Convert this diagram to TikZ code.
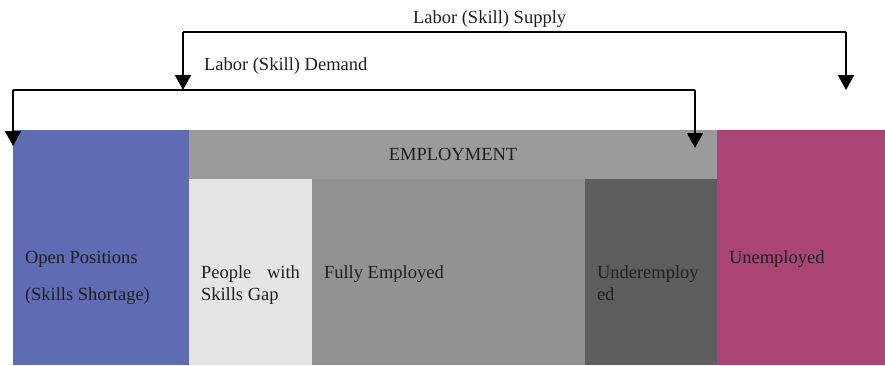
\documentclass[tikz,border=0pt]{standalone}
\usepackage{fontspec}
\setmainfont{Liberation Serif}
\usetikzlibrary{arrows.meta}
\definecolor{openblue}{HTML}{5F6BB3}
\definecolor{emphead}{HTML}{9B9B9B}
\definecolor{gapgray}{HTML}{E5E5E5}
\definecolor{fullgray}{HTML}{929292}
\definecolor{undergray}{HTML}{5E5E5E}
\definecolor{unemp}{HTML}{AA4474}
\definecolor{txt}{HTML}{1E1E1E}
\tikzset{
  block/.style={draw=none, inner sep=0pt, outer sep=0pt, anchor=north west},
  lbl/.style={inner sep=0pt, outer sep=0pt, anchor=base west, text=txt,
              font=\fontsize{18.5}{22}\selectfont},
  conn/.style={line width=1.6pt, -{Triangle[length=15pt,width=16pt]}},
}
\begin{document}
\begin{tikzpicture}[x=1pt,y=-1pt]
\useasboundingbox (0,0) rectangle (885,365);
% blocks
\node[block, fill=openblue, minimum width=176pt, minimum height=235pt] (open) at (13,130) {};
\node[block, fill=emphead, minimum width=528pt, minimum height=49pt] (emp) at (189,130) {};
\node[block, fill=gapgray, minimum width=123pt, minimum height=186pt] (gap) at (189,179) {};
\node[block, fill=fullgray, minimum width=273pt, minimum height=186pt] (full) at (312,179) {};
\node[block, fill=undergray, minimum width=132pt, minimum height=186pt] (under) at (585,179) {};
\node[block, fill=unemp, minimum width=168pt, minimum height=235pt] (unem) at (717,130) {};
% texts
\node[lbl, anchor=base] (emptxt) at (453,160) {EMPLOYMENT};
\node[lbl] (open1) at (25,263) {Open Positions};
\node[lbl] (open2) at (25,300) {(Skills Shortage)};
\node[lbl] (gap1) at (201,278) {\makebox[99pt][s]{People with}};
\node[lbl] (gap2) at (201,300) {Skills Gap};
\node[lbl] (full1) at (324,278) {Fully Employed};
\node[lbl] (under1) at (597,278) {Underemploy};
\node[lbl] (under2) at (597,300) {ed};
\node[lbl] (unemtxt) at (729,263) {Unemployed};
\node[lbl] (supply) at (413,23) {Labor (Skill) Supply};
\node[lbl] (demand) at (204,70) {Labor (Skill) Demand};
% connector points
\coordinate (sL) at (183,32);
\coordinate (sR) at (846,32);
\coordinate (sLend) at (183,90);
\coordinate (sRend) at (846,90);
\coordinate (dL) at (13,90);
\coordinate (dR) at (695,90);
\coordinate (dLend) at (13,146);
\coordinate (dRend) at (695,148);
% connectors
\draw[line width=1.6pt] (dL) -- (dR);
\draw[conn] (dL) -- (dLend);
\draw[conn] (dR) -- (dRend);
\draw[line width=1.6pt] (sL) -- (sR);
\draw[conn] (sL) -- (sLend);
\draw[conn] (sR) -- (sRend);
\end{tikzpicture}
\end{document}
